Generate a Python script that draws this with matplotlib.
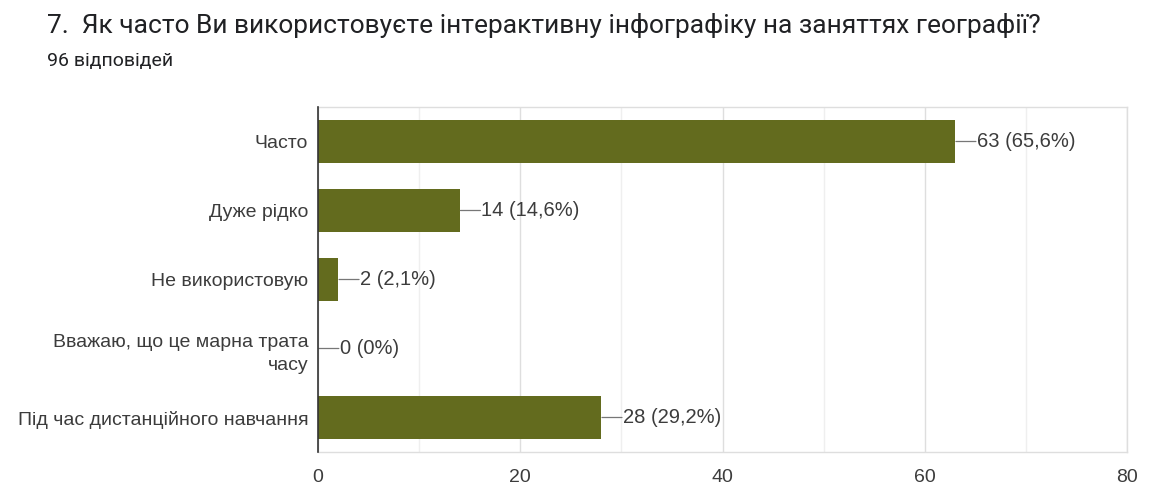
import matplotlib
matplotlib.use('Agg')
import matplotlib.pyplot as plt
from matplotlib.ticker import MultipleLocator

plt.rcParams['font.family'] = ['Liberation Sans', 'DejaVu Sans']

# Survey answers and counts
title = "7.  Як часто Ви використовуєте інтерактивну інфографіку на заняттях географії?"
subtitle = "96 відповідей"
categories = ["Часто", "Дуже рідко", "Не використовую",
              "Вважаю, що це марна трата\nчасу", "Під час дистанційного навчання"]
counts = [63, 14, 2, 0, 28]
percents = ["65,6%", "14,6%", "2,1%", "0%", "29,2%"]
x_ticks = [0, 20, 40, 60, 80]

bar_color = "#636b1e"
text_color = "#3c3c3c"

fig = plt.figure(figsize=(11.49, 4.86), dpi=100)
ax = fig.add_axes([318 / 1149, 34 / 486, 809 / 1149, 345 / 486])

y_pos = list(range(len(categories)))
ax.barh(y_pos, counts, height=0.62, color=bar_color, zorder=3)

# value labels with a short leader line from the bar end
for y, c, p in zip(y_pos, counts, percents):
    ax.annotate("", xy=(c, y), xytext=(15, 0), textcoords="offset points",
                arrowprops=dict(arrowstyle="-", color="#777777", lw=0.9,
                                shrinkA=0, shrinkB=0.6), zorder=4)
    ax.annotate(f"{c} ({p})", xy=(c, y), xytext=(15.5, 0), textcoords="offset points",
                ha="left", va="center", fontsize=14.5, color=text_color, zorder=4)

ax.set_xlim(0, 80)
ax.set_ylim(len(categories) - 0.5, -0.5)
ax.set_xticks(x_ticks)
ax.set_xticklabels([str(t) for t in x_ticks])
ax.xaxis.set_minor_locator(MultipleLocator(10))
ax.set_yticks(y_pos)
ax.set_yticklabels(categories, ha="right", linespacing=1.5)

ax.grid(axis="x", which="major", color="#dedede", lw=1.0, zorder=0)
ax.grid(axis="x", which="minor", color="#efefef", lw=1.0, zorder=0)
ax.tick_params(axis="both", which="both", length=0)
ax.tick_params(axis="x", pad=12, labelsize=14, labelcolor=text_color)
ax.tick_params(axis="y", pad=7, labelsize=14, labelcolor=text_color)

for side in ["top", "bottom", "right"]:
    ax.spines[side].set_color("#dedede")
    ax.spines[side].set_linewidth(1.0)
ax.spines["left"].set_color("#333333")
ax.spines["left"].set_linewidth(1.2)
ax.spines["left"].set_zorder(5)

fig.text(47 / 1149, 1 - 33 / 486, title, fontsize=19, color="#202124",
         ha="left", va="baseline", family=['Roboto', 'DejaVu Sans'])
fig.text(47 / 1149, 1 - 66 / 486, subtitle, fontsize=14, color="#202124",
         ha="left", va="baseline", family=['Roboto', 'DejaVu Sans'])

fig.savefig("out.png", dpi=100)
